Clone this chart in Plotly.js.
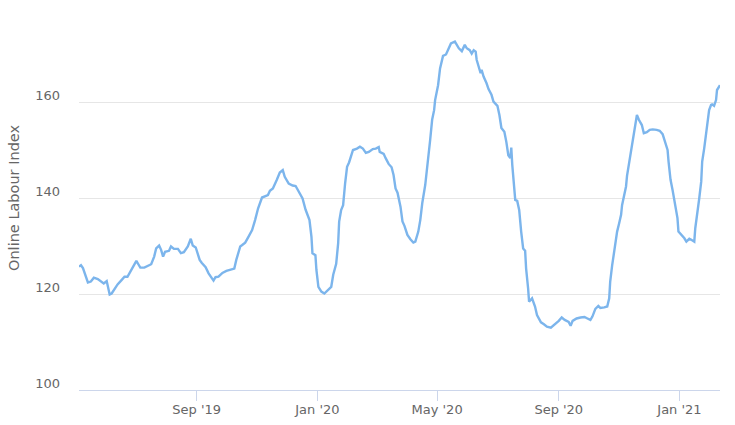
<!DOCTYPE html>
<html>
<head>
<meta charset="utf-8">
<script src="https://cdn.plot.ly/plotly-3.0.1.min.js"></script>
<style>html,body{margin:0;padding:0;background:#fff;}#chart{width:735px;height:425px;}</style>
</head>
<body>
<div id="chart"></div>
<script>
const dates = [
"2019-05-05","2019-05-07","2019-05-09","2019-05-11","2019-05-14","2019-05-17","2019-05-20","2019-05-24","2019-05-28","2019-05-30",
"2019-06-02","2019-06-03","2019-06-05","2019-06-07","2019-06-10","2019-06-13","2019-06-17","2019-06-20","2019-06-23","2019-06-25",
"2019-06-29","2019-07-02","2019-07-04","2019-07-06","2019-07-10","2019-07-14","2019-07-17","2019-07-20","2019-07-22","2019-07-25",
"2019-07-27","2019-07-29","2019-07-31","2019-08-04","2019-08-06","2019-08-09","2019-08-13","2019-08-16","2019-08-19","2019-08-23",
"2019-08-26","2019-08-28","2019-08-31","2019-09-04","2019-09-06","2019-09-10","2019-09-13","2019-09-18","2019-09-20","2019-09-23",
"2019-09-27","2019-10-01","2019-10-06","2019-10-09","2019-10-11","2019-10-15","2019-10-17","2019-10-20","2019-10-23","2019-10-27",
"2019-10-30","2019-11-02","2019-11-06","2019-11-09","2019-11-12","2019-11-14","2019-11-17","2019-11-21","2019-11-24","2019-11-27",
"2019-11-29","2019-12-03","2019-12-07","2019-12-10","2019-12-13","2019-12-17","2019-12-20","2019-12-24","2019-12-26","2019-12-27",
"2019-12-30","2019-12-31","2020-01-02","2020-01-05","2020-01-08","2020-01-11","2020-01-15","2020-01-17","2020-01-20","2020-01-22",
"2020-01-23","2020-01-25","2020-01-27","2020-01-29","2020-01-31","2020-02-02","2020-02-04","2020-02-06","2020-02-10","2020-02-13",
"2020-02-16","2020-02-19","2020-02-22","2020-02-26","2020-02-29","2020-03-03","2020-03-04","2020-03-08","2020-03-10","2020-03-13",
"2020-03-16","2020-03-18","2020-03-20","2020-03-22","2020-03-25","2020-03-27","2020-03-29","2020-04-01","2020-04-04","2020-04-07",
"2020-04-09","2020-04-12","2020-04-14","2020-04-16","2020-04-19","2020-04-22","2020-04-24","2020-04-26","2020-04-28","2020-04-29",
"2020-05-02","2020-05-04","2020-05-07","2020-05-10","2020-05-13","2020-05-15","2020-05-19","2020-05-21","2020-05-23","2020-05-26",
"2020-05-29","2020-05-31","2020-06-03","2020-06-05","2020-06-07","2020-06-09","2020-06-10","2020-06-12","2020-06-14","2020-06-15",
"2020-06-17","2020-06-20","2020-06-22","2020-06-25","2020-06-27","2020-07-01","2020-07-03","2020-07-05","2020-07-08","2020-07-10",
"2020-07-12","2020-07-14","2020-07-15","2020-07-16","2020-07-18","2020-07-19","2020-07-21","2020-07-23","2020-07-25","2020-07-27",
"2020-07-29","2020-07-30","2020-08-01","2020-08-02","2020-08-05","2020-08-08","2020-08-10","2020-08-14","2020-08-17","2020-08-20",
"2020-08-24","2020-08-27","2020-08-30","2020-09-01","2020-09-04","2020-09-07","2020-09-11","2020-09-13","2020-09-15","2020-09-19",
"2020-09-23","2020-09-27","2020-09-30","2020-10-03","2020-10-05","2020-10-08","2020-10-11","2020-10-13","2020-10-17","2020-10-20",
"2020-10-22","2020-10-23","2020-10-25","2020-10-27","2020-10-29","2020-10-30","2020-11-01","2020-11-03","2020-11-04","2020-11-06",
"2020-11-08","2020-11-09","2020-11-11","2020-11-13","2020-11-14","2020-11-16","2020-11-18","2020-11-19","2020-11-21","2020-11-24",
"2020-11-26","2020-11-29","2020-12-02","2020-12-05","2020-12-09","2020-12-12","2020-12-15","2020-12-17","2020-12-20","2020-12-21",
"2020-12-23","2020-12-25","2020-12-27","2020-12-30","2020-12-31","2021-01-03","2021-01-06","2021-01-08","2021-01-11","2021-01-13",
"2021-01-16","2021-01-17","2021-01-19","2021-01-21","2021-01-23","2021-01-24","2021-01-26","2021-01-28","2021-01-29","2021-01-31",
"2021-02-02","2021-02-03","2021-02-05","2021-02-07","2021-02-08","2021-02-10","2021-02-11"
];
const indexValues = [
125.7,126.0,125.4,124.0,122.4,122.6,123.4,123.1,122.6,122.2,
122.7,121.5,119.9,120.1,121.2,122.0,122.9,123.6,123.6,124.3,
125.7,126.9,126.2,125.5,125.5,125.9,126.2,127.8,129.5,130.1,
129.2,127.8,128.8,129.0,129.9,129.4,129.4,128.5,128.7,129.9,
131.5,130.1,129.7,127.1,126.5,125.6,124.3,122.8,123.5,123.6,
124.4,124.8,125.1,125.3,127.1,129.9,130.2,130.7,131.8,133.3,
135.4,137.8,140.1,140.3,140.6,141.5,142.0,143.8,145.3,145.8,
144.4,143.0,142.6,142.5,141.3,139.9,137.6,135.4,131.9,128.5,
128.1,125.0,121.5,120.5,120.1,120.8,121.5,124.0,126.3,130.6,
135.1,137.5,138.5,143.0,146.5,147.4,148.6,150.0,150.3,150.7,
150.3,149.4,149.6,150.2,150.3,150.6,149.6,149.2,148.3,147.1,
146.4,144.8,142.0,141.1,138.2,135.1,134.2,132.3,131.4,130.7,
130.9,133.0,135.4,138.9,142.7,147.9,152.1,156.3,158.3,160.4,
163.5,167.0,169.6,169.9,171.2,172.2,172.6,172.0,171.2,170.6,
171.9,171.2,170.8,170.1,170.8,170.5,168.8,167.4,166.0,166.7,
165.3,163.9,162.7,161.5,160.1,159.2,157.3,154.6,153.8,151.7,
148.9,148.3,150.5,146.9,142.7,139.6,139.4,137.5,133.0,129.5,
129.0,125.3,121.2,118.4,119.1,117.4,115.6,114.1,113.7,113.2,
113.0,113.5,114.1,114.4,115.1,114.6,114.2,113.4,114.4,114.9,
115.1,115.2,114.9,114.6,115.3,116.9,117.5,117.1,117.2,117.4,
119.1,122.6,126.0,128.8,131.3,133.0,134.7,136.5,138.5,140.3,
142.4,144.6,147.2,149.3,151.0,153.5,156.3,157.3,156.3,155.2,
153.5,153.7,154.2,154.3,154.2,154.0,153.3,151.9,150.0,147.6,
143.8,141.7,139.6,135.8,133.0,132.4,131.6,130.9,131.5,131.3,
130.9,133.7,136.5,139.9,143.4,147.6,150.3,153.1,155.2,158.3,
159.4,159.5,159.2,160.4,162.5,163.2,163.5
];
const xTickVals = ["2019-09-01","2020-01-01","2020-05-01","2020-09-01","2021-01-01"];
const xTickText = ["Sep '19","Jan '20","May '20","Sep '20","Jan '21"];
const yTickVals = [100,120,140,160,180];
const yTickText = ["100","120","140","160",""];
const yTitle = "Online Labour Index";

const font = "DejaVu Sans, Verdana, sans-serif";

Plotly.newPlot("chart", [{
  x: dates, y: indexValues, type: "scatter", mode: "lines",
  line: {color: "#7cb5ec", width: 2.4}, hoverinfo: "skip"
}], {
  width: 735, height: 425,
  margin: {l: 79, r: 15, t: 6, b: 35},
  paper_bgcolor: "#fff", plot_bgcolor: "#fff",
  showlegend: false,
  font: {family: font, color: "#666666", size: 13},
  xaxis: {
    type: "date", range: [dates[0], dates[dates.length-1]],
    tickvals: xTickVals, ticktext: xTickText,
    showgrid: false, zeroline: false,
    showline: true, linecolor: "#ccd6eb", linewidth: 1,
    ticks: "outside", ticklen: 10, tickcolor: "#ccd6eb", tickwidth: 1,
    tickfont: {family: font, color: "#666666", size: 13},
    ticklabelstandoff: -3,
    automargin: false
  },
  yaxis: {
    range: [100, 180], tickvals: yTickVals, ticktext: yTickText,
    showgrid: true, gridcolor: "#e6e6e6", gridwidth: 1,
    zeroline: false, showline: false, ticks: "",
    tickfont: {family: font, color: "#666666", size: 13},
    ticklabelshift: -7, ticklabelstandoff: 18,
    automargin: false
  },
  annotations: [{
    text: yTitle, xref: "paper", yref: "paper", x: 0, y: 0.5,
    xanchor: "center", yanchor: "middle", xshift: -65, textangle: -90,
    showarrow: false, font: {family: font, color: "#666666", size: 14.5}
  }]
}, {displayModeBar: false, staticPlot: true});
</script>
</body>
</html>
